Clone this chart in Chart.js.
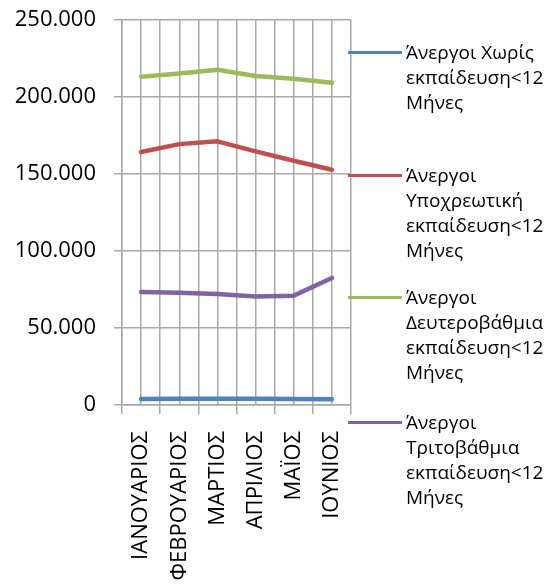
<!DOCTYPE html>
<html>
<head>
<meta charset="utf-8">
<script src="https://cdn.jsdelivr.net/npm/chart.js@4/dist/chart.umd.min.js"></script>
<style>
  html, body { margin: 0; padding: 0; background: #fff; }
  #wrap { position: relative; width: 548px; height: 588px; overflow: hidden; }
  #c { position: absolute; left: 0; top: 0; }
  .leg { position: absolute; left: 348px; width: 200px; font-family: "Open Sans", sans-serif; font-size: 19px; line-height: 25px; color: #000; }
  .leg .mk { position: absolute; left: 0; top: 11px; width: 54px; height: 3px; }
  .leg .tx { position: absolute; left: 58px; top: 0; width: 142px; }
</style>
</head>
<body>
<div id="wrap">
  <canvas id="c" width="548" height="588"></canvas>
</div>
<script>
const categories = ["ΙΑΝΟΥΑΡΙΟΣ", "ΦΕΒΡΟΥΑΡΙΟΣ", "ΜΑΡΤΙΟΣ", "ΑΠΡΙΛΙΟΣ", "ΜΑΪΟΣ", "ΙΟΥΝΙΟΣ"];
const seriesNames = [
  "Άνεργοι Χωρίς εκπαίδευση<12 Μήνες",
  "Άνεργοι Υποχρεωτική εκπαίδευση<12 Μήνες",
  "Άνεργοι Δευτεροβάθμια εκπαίδευση<12 Μήνες",
  "Άνεργοι Τριτοβάθμια εκπαίδευση<12 Μήνες"
];
const noEducation   = [3900, 4000, 4100, 4000, 3900, 3700];
const compulsory    = [164300, 169400, 171200, 164700, 158600, 152800];
const secondary     = [213200, 215300, 217700, 213600, 211900, 209300];
const tertiary      = [73400, 72900, 72100, 70500, 71000, 82500];
const yTicks = [0, 50000, 100000, 150000, 200000, 250000];
const seriesColors = ["#4F81BD", "#C0504D", "#9BBB59", "#8064A2"];

const allSeries = [noEducation, compulsory, secondary, tertiary];
const legendTops = [40, 163, 285, 410];

function fmt(v) {
  return String(v).replace(/\B(?=(\d{3})+(?!\d))/g, ".");
}

const gridColor = "#a8a8a8";
const FONT = "'Open Sans', sans-serif";

new Chart(document.getElementById("c"), {
  type: "line",
  data: {
    labels: categories,
    datasets: allSeries.map((d, i) => ({
      label: seriesNames[i],
      data: d,
      borderColor: seriesColors[i],
      backgroundColor: seriesColors[i],
      borderWidth: 4.5,
      pointRadius: 0,
      tension: 0,
      borderCapStyle: "round",
      borderJoinStyle: "round"
    }))
  },
  options: {
    responsive: false,
    animation: false,
    layout: { padding: { top: 20, right: 197, left: 0, bottom: 0 } },
    plugins: { legend: { display: false }, tooltip: { enabled: false } },
    scales: {
      y: {
        min: 0, max: 250000,
        afterBuildTicks: (s) => { s.ticks = yTicks.map(v => ({ value: v })); },
        ticks: { color: "#000", font: { family: FONT, size: 22 }, padding: 18, callback: (v) => fmt(v) },
        grid: { color: gridColor, lineWidth: 1.5, tickLength: 8, drawTicks: true },
        border: { color: gridColor, width: 1.5 },
        afterFit: (s) => { s.width = 122; s.paddingTop = 0; s.paddingBottom = 0; }
      },
      x: {
        offset: true,
        ticks: { color: "#000", font: { family: FONT, size: 22 }, minRotation: 90, maxRotation: 90, autoSkip: false, padding: 17 },
        grid: { offset: true, color: gridColor, lineWidth: 1.5, tickLength: 9 },
        border: { color: gridColor, width: 1.5 },
        afterFit: (s) => { s.height = 183; }
      },
      x2: {
        type: "category",
        labels: categories,
        position: "top",
        offset: true,
        ticks: { display: false },
        grid: { offset: false, color: gridColor, lineWidth: 1.5, drawTicks: false },
        border: { display: false },
        afterFit: (s) => { s.height = 0; }
      }
    }
  }
});

const wrap = document.getElementById("wrap");
seriesNames.forEach((name, i) => {
  const d = document.createElement("div");
  d.className = "leg";
  d.style.top = legendTops[i] + "px";
  const mk = document.createElement("div");
  mk.className = "mk";
  mk.style.background = seriesColors[i];
  const tx = document.createElement("div");
  tx.className = "tx";
  tx.textContent = name;
  d.appendChild(mk);
  d.appendChild(tx);
  wrap.appendChild(d);
});
</script>
</body>
</html>
